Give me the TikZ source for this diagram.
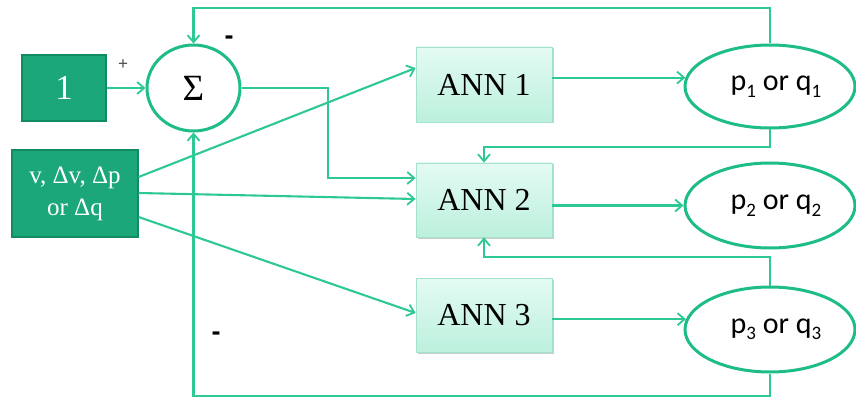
\documentclass[tikz,border=0pt]{standalone}
\usepackage{fontspec}
\setmainfont{Liberation Serif}
\newfontfamily\calibfont{Carlito}
\newfontfamily\signfont{Liberation Sans}
\usetikzlibrary{shapes.geometric,arrows.meta,shadows,calc}

\definecolor{boxgreen}{RGB}{27,167,121}
\definecolor{boxedge}{RGB}{18,138,98}
\definecolor{linegreen}{RGB}{45,200,148}
\definecolor{ringgreen}{RGB}{30,188,136}
\definecolor{anntop}{RGB}{228,251,243}
\definecolor{annbot}{RGB}{188,240,221}
\definecolor{annedge}{RGB}{165,226,203}

% lowered index in the output labels
\newcommand{\lowidx}[1]{\raisebox{-0.45ex}{\fontsize{19}{19}\selectfont #1}}
% output label, set a little right of the ellipse centre
\newcommand{\outlabel}[1]{\hspace*{12pt}#1}

\begin{document}
\begin{tikzpicture}[x=1pt,y=-1pt,
  wire/.style={draw=linegreen, line width=2.1pt},
  link/.style={wire, -{Straight Barb[length=7pt,width=12pt,line width=1.8pt]}},
  inbox/.style={rectangle, fill=boxgreen, draw=boxedge, line width=1.2pt,
    text=white, inner sep=0pt, align=center,
    drop shadow={shadow xshift=1.2pt, shadow yshift=-1.2pt, opacity=0.35, fill=gray}},
  annbox/.style={rectangle, draw=annedge, line width=0.8pt,
    top color=anntop, bottom color=annbot, inner sep=0pt,
    minimum width=136pt, font=\fontsize{32}{33}\selectfont,
    drop shadow={shadow xshift=1.5pt, shadow yshift=-1.5pt, opacity=0.4, fill=gray}},
  outnode/.style={ellipse, draw=ringgreen, line width=3pt, fill=white,
    inner sep=0pt, minimum width=170pt, minimum height=84pt,
    font=\calibfont\fontsize{30}{31}\selectfont},
  sign/.style={inner sep=0pt, font=\signfont\bfseries\fontsize{27}{27}\selectfont}
]
\useasboundingbox (0,0) rectangle (856,398);

% inputs and summing junction
\node[inbox, minimum width=84pt, minimum height=66pt,
      font=\fontsize{35}{35}\selectfont] (one) at (64,88) {1};
\node[inbox, minimum width=126pt, minimum height=87pt,
      font=\fontsize{25}{32}\selectfont] (vin) at (75,193.5) {v, Δv, Δp\\or Δq};
\node[ellipse, draw=ringgreen, line width=3pt, fill=white, inner sep=0pt,
      minimum width=93pt, minimum height=86pt,
      font=\fontsize{37}{37}\selectfont] (sum) at (193.5,88) {Σ};

% neural networks
\node[annbox, minimum height=75pt] (ann1) at (484,84.5) {ANN 1};
\node[annbox, minimum height=74pt] (ann2) at (484,200) {ANN 2};
\node[annbox, minimum height=74pt] (ann3) at (484,315) {ANN 3};

% outputs
\node[outnode, minimum height=83pt] (p1) at (770,86.5) {\outlabel{p\lowidx{1} or q\lowidx{1}}};
\node[outnode, minimum height=85pt] (p2) at (770,205.5) {\outlabel{p\lowidx{2} or q\lowidx{2}}};
\node[outnode, minimum height=85pt] (p3) at (770,329.5) {\outlabel{p\lowidx{3} or q\lowidx{3}}};

% sign marks
\node[inner sep=0pt, text=black!70, font=\signfont\fontsize{17}{17}\selectfont] (plus) at (123,65) {+};
\node[sign] (minustop) at (229,40) {-};
\node[sign] (minusbot) at (216,336) {-};

% helper coordinates for routing
\coordinate (topy) at (0,8);
\coordinate (boty) at (0,396);
\coordinate (fbone) at (0,147);
\coordinate (fbthree) at (0,257);
\coordinate (bend) at (328,178);

% forward paths
\draw[link] (one.east) -- (sum.west);
\draw[link] (sum.east) -| (bend) -- (ann2.west |- bend);
\draw[link] ($(vin.east)+(0,-16.5)$) -- ($(ann1.west)+(0,-16.5)$);
\draw[link] ($(vin.east)+(0,-0.5)$) -- ($(ann2.west)+(0,-1)$);
\draw[link] ($(vin.east)+(0,23.5)$) -- ($(ann3.west)+(0,-2)$);

\draw[link] (ann1.east |- p1.174.9) -- (p1.174.9);
\draw[link] (ann2.east |- p2.west) -- (p2.west);
\draw[link] (ann3.east |- p3.173.5) -- (p3.173.5);

% feedback paths
\draw[link] (p1.north) -- (p1.north |- topy) -- (sum.north |- topy) -- (sum.north);
\draw[link] (p3.south) -- (p3.south |- boty) -- (sum.south |- boty) -- (sum.south);
\draw[link] (p1.south) -- (p1.south |- fbone) -- (ann2.north |- fbone) -- (ann2.north);
\draw[link] (p3.north) -- (p3.north |- fbthree) -- (ann2.south |- fbthree) -- (ann2.south);
\end{tikzpicture}
\end{document}
